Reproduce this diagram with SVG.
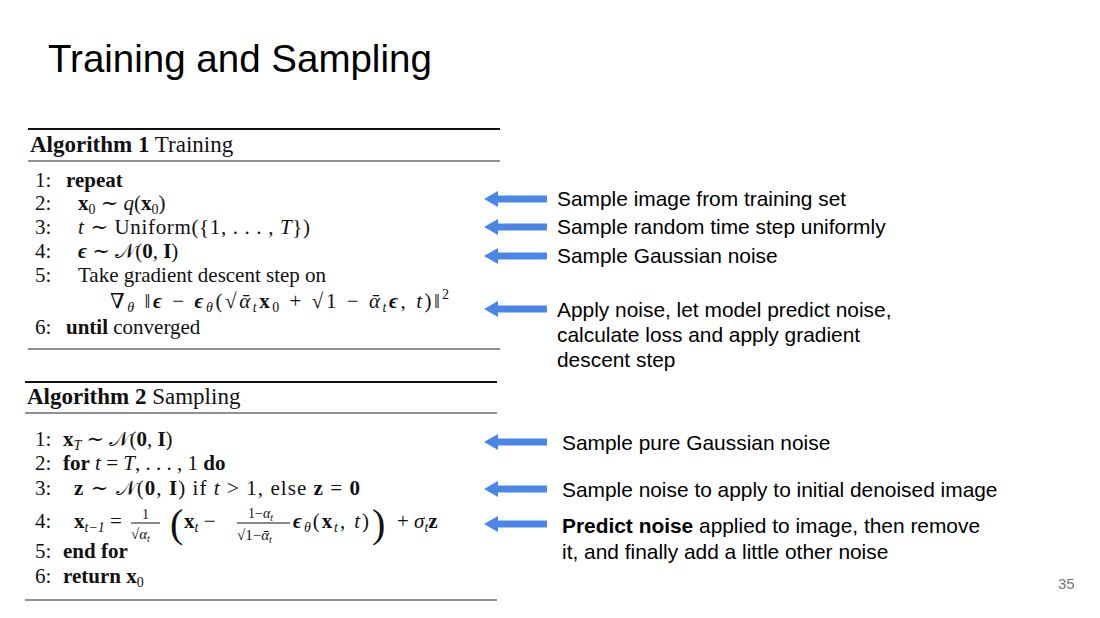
<svg xmlns="http://www.w3.org/2000/svg" width="1100" height="618" viewBox="0 0 1100 618">
<defs>
<style>
.s{font-family:"Liberation Serif","DejaVu Serif",serif;font-size:21px;fill:#111}
.b{font-weight:bold}
.i{font-style:italic}
.sub{font-size:14px}
.n{font-family:"Liberation Sans",Arial,sans-serif;font-size:20.9px;fill:#000}
.rule{stroke:#222;stroke-width:1.2}
.thick{stroke:#111;stroke-width:2}
.arr{fill:#4a86e8}
</style>
<path id="ar" class="arr" d="M0 0 L14 -8 L14 -3.5 L63 -3.5 L63 3.5 L14 3.5 L14 8 Z"/>
</defs>
<rect width="1100" height="618" fill="#fff"/>
<text x="48" y="72" font-family="Liberation Sans,Arial,sans-serif" font-size="38.5" fill="#000">Training and Sampling</text>
<text x="1058" y="589" font-family="Liberation Sans,Arial,sans-serif" font-size="15" fill="#777">35</text>

<g id="algo1">
<line class="thick" x1="28" y1="129" x2="500" y2="129"/>
<text class="s" x="30" y="152" style="font-size:23px"><tspan class="b">Algorithm 1</tspan> Training</text>
<line class="rule" x1="28" y1="161" x2="500" y2="161"/>
<text class="s" x="35" y="187">1:</text><text class="s b" x="66" y="187">repeat</text>
<text class="s" x="35" y="210">2:</text><text class="s" x="78" y="210"><tspan class="b">x</tspan><tspan class="sub" dy="4">0</tspan><tspan dy="-4"> ∼ </tspan><tspan class="i">q</tspan>(<tspan class="b">x</tspan><tspan class="sub" dy="4">0</tspan><tspan dy="-4">)</tspan></text>
<text class="s" x="35" y="234">3:</text><text class="s" x="78" y="234" textLength="232"><tspan class="i">t</tspan> ∼ Uniform({1, . . . , <tspan class="i">T</tspan>})</text>
<text class="s" x="35" y="258">4:</text><text class="s" x="78" y="258"><tspan class="b i">ϵ</tspan> ∼ 𝒩(<tspan class="b">0</tspan>, <tspan class="b">I</tspan>)</text>
<text class="s" x="35" y="282">5:</text><text class="s" x="78" y="282">Take gradient descent step on</text>
<text class="s" x="110" y="308" textLength="330">∇<tspan class="sub i" dy="4">θ</tspan><tspan dy="-4"> ‖</tspan><tspan class="b i">ϵ</tspan> − <tspan class="b i">ϵ</tspan><tspan class="sub i" dy="4">θ</tspan><tspan dy="-4">(√</tspan><tspan class="i">ᾱ</tspan><tspan class="sub i" dy="4">t</tspan><tspan dy="-4" class="b">x</tspan><tspan class="sub" dy="4">0</tspan><tspan dy="-4"> + √1 − </tspan><tspan class="i">ᾱ</tspan><tspan class="sub i" dy="4">t</tspan><tspan dy="-4" class="b i">ϵ</tspan>, <tspan class="i">t</tspan>)‖</text>
<text class="s sub" x="442" y="299">2</text>
<text class="s" x="35" y="334">6:</text><text class="s" x="66" y="334"><tspan class="b">until</tspan> converged</text>
<line class="rule" x1="28" y1="349" x2="500" y2="349"/>
</g>

<g id="algo2">
<line class="thick" x1="25" y1="382" x2="497" y2="382"/>
<text class="s" x="27" y="404" style="font-size:23px"><tspan class="b">Algorithm 2</tspan> Sampling</text>
<line class="rule" x1="25" y1="413" x2="497" y2="413"/>
<text class="s" x="35" y="446">1:</text><text class="s" x="63" y="446"><tspan class="b">x</tspan><tspan class="sub i" dy="4">T</tspan><tspan dy="-4"> ∼ 𝒩(</tspan><tspan class="b">0</tspan>, <tspan class="b">I</tspan>)</text>
<text class="s" x="35" y="470">2:</text><text class="s" x="63" y="470"><tspan class="b">for</tspan> <tspan class="i">t</tspan> = <tspan class="i">T</tspan>, . . . , 1 <tspan class="b">do</tspan></text>
<text class="s" x="35" y="495">3:</text><text class="s" x="74" y="495" textLength="286"><tspan class="b">z</tspan> ∼ 𝒩(<tspan class="b">0</tspan>, <tspan class="b">I</tspan>) if <tspan class="i">t</tspan> &gt; 1, else <tspan class="b">z</tspan> = <tspan class="b">0</tspan></text>
<text class="s" x="35" y="528">4:</text>
<text class="s" x="74" y="528"><tspan class="b">x</tspan><tspan class="sub i" dy="4">t−1</tspan><tspan dy="-4"> =</tspan></text>
<text class="s" x="142" y="519" style="font-size:14px">1</text>
<line x1="131" y1="523" x2="160" y2="523" stroke="#111" stroke-width="1"/>
<text class="s" x="131" y="539" style="font-size:15px">√<tspan class="i">α</tspan><tspan class="i" style="font-size:10px" dy="3">t</tspan></text>
<text class="s" x="170" y="537" style="font-size:40px">(</text>
<text class="s" x="184" y="528"><tspan class="b">x</tspan><tspan class="sub i" dy="4">t</tspan><tspan dy="-4"> −</tspan></text>
<text class="s" x="248" y="518" style="font-size:14px">1−<tspan class="i">α</tspan><tspan class="i" style="font-size:10px" dy="3">t</tspan></text>
<line x1="237" y1="523" x2="290" y2="523" stroke="#111" stroke-width="1"/>
<text class="s" x="237" y="540" style="font-size:15px">√1−<tspan class="i">ᾱ</tspan><tspan class="i" style="font-size:10px" dy="3">t</tspan></text>
<text class="s" x="293" y="528" textLength="76"><tspan class="b i">ϵ</tspan><tspan class="sub i" dy="4">θ</tspan><tspan dy="-4">(</tspan><tspan class="b">x</tspan><tspan class="sub i" dy="4">t</tspan><tspan dy="-4">, </tspan><tspan class="i">t</tspan>)</text>
<text class="s" x="372" y="537" style="font-size:40px">)</text>
<text class="s" x="397" y="528">+ <tspan class="i">σ</tspan><tspan class="sub i" dy="4">t</tspan><tspan dy="-4" class="b">z</tspan></text>
<text class="s" x="35" y="558">5:</text><text class="s b" x="63" y="558">end for</text>
<text class="s" x="35" y="583">6:</text><text class="s" x="63" y="583"><tspan class="b">return</tspan> <tspan class="b">x</tspan><tspan class="sub" dy="4">0</tspan></text>
<line class="rule" x1="25" y1="600" x2="497" y2="600"/>
</g>

<g id="connectors">
<use href="#ar" x="484" y="199"/>
<use href="#ar" x="484" y="227"/>
<use href="#ar" x="484" y="256"/>
<use href="#ar" x="484" y="309"/>
<use href="#ar" x="484" y="442"/>
<use href="#ar" x="484" y="489"/>
<use href="#ar" x="484" y="524"/>
</g>

<g id="notes">
<text class="n" x="557" y="206">Sample image from training set</text>
<text class="n" x="557" y="234">Sample random time step uniformly</text>
<text class="n" x="557" y="263">Sample Gaussian noise</text>
<text class="n" x="557" y="317">Apply noise, let model predict noise,</text>
<text class="n" x="557" y="342">calculate loss and apply gradient</text>
<text class="n" x="557" y="367">descent step</text>
<text class="n" x="562" y="450">Sample pure Gaussian noise</text>
<text class="n" x="562" y="497">Sample noise to apply to initial denoised image</text>
<text class="n" x="562" y="533"><tspan font-weight="bold">Predict noise</tspan> applied to image, then remove</text>
<text class="n" x="562" y="559">it, and finally add a little other noise</text>
</g>
</svg>
